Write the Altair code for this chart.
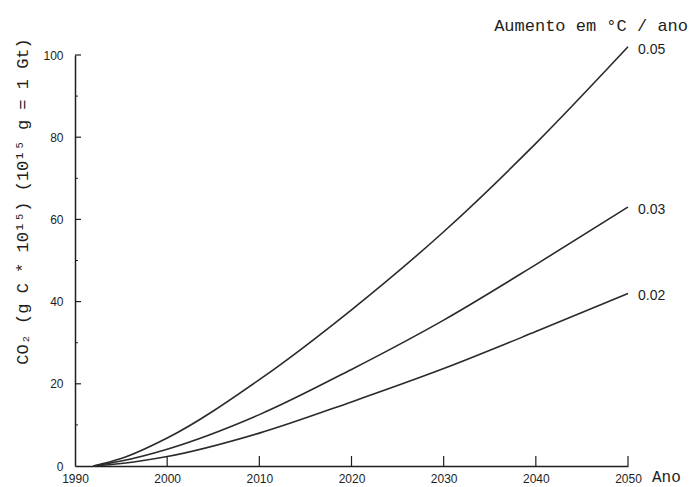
import altair as alt
import pandas as pd

# ---- data ----
years = [1992, 1995, 2000, 2010, 2020, 2030, 2040, 2050]
s_005 = [0, 1.8, 6.8, 21.0, 38.0, 57.0, 78.5, 102.0]
s_003 = [0, 1.2, 4.1, 12.5, 23.5, 35.5, 49.0, 63.0]
s_002 = [0, 0.6, 2.3, 8.0, 15.6, 23.7, 32.7, 42.0]
series_names = ["0.05", "0.03", "0.02"]
x_tick_values = [2000, 2010, 2020, 2030, 2040, 2050]
x_label_values = [1990, 2000, 2010, 2020, 2030, 2040, 2050]
y_major = [20, 40, 60, 80, 100]
y_minor = [10, 30, 50, 70, 90]
y_label_values = [0, 20, 40, 60, 80, 100]

rows = []
for name, vals in zip(series_names, [s_005, s_003, s_002]):
    for yr, v in zip(years, vals):
        rows.append({"ano": yr, "co2": v, "serie": name})
df = pd.DataFrame(rows)
end_df = df[df["ano"] == 2050]

W, H = 553, 411
xs = alt.Scale(domain=[1990, 2050], nice=False, zero=False)
ys = alt.Scale(domain=[0, 100], nice=False)

ink = "#1e1e1e"

x_axis = alt.Axis(
    values=x_label_values, format="d", ticks=False, grid=False,
    domainColor=ink, domainWidth=1.5, labelFont="Liberation Sans",
    labelFontSize=12, labelColor=ink, labelPadding=7, title=None,
    labelFlush=False)
y_axis = alt.Axis(
    values=y_label_values, ticks=False, grid=False,
    domainColor=ink, domainWidth=1.5, labelFont="Liberation Sans",
    labelFontSize=12, labelColor=ink, labelPadding=12,
    title="CO\u2082 (g C * 10\u00b9\u2075)   (10\u00b9\u2075 g = 1 Gt)",
    titleFont="Liberation Mono", titleFontSize=17, titleFontWeight="normal",
    titleColor=ink, titleAngle=270, titleX=-53, titleY=146,
    titleAlign="center", titleBaseline="middle", labelFlush=False)

lines = alt.Chart(df).mark_line(
    interpolate="monotone", color="#2a2a2a", strokeWidth=1.6
).encode(
    x=alt.X("ano:Q", scale=xs, axis=x_axis),
    y=alt.Y("co2:Q", scale=ys, axis=y_axis),
    detail="serie:N",
)

ytick_major = alt.Chart(pd.DataFrame({"co2": y_major})).mark_rule(
    color=ink, strokeWidth=1.2).encode(
    y=alt.Y("co2:Q", scale=ys, axis=y_axis), x=alt.value(0), x2=alt.value(6))
ytick_minor = alt.Chart(pd.DataFrame({"co2": y_minor})).mark_rule(
    color=ink, strokeWidth=1).encode(
    y=alt.Y("co2:Q", scale=ys, axis=y_axis), x=alt.value(0), x2=alt.value(3))
xtick = alt.Chart(pd.DataFrame({"ano": x_tick_values})).mark_rule(
    color=ink, strokeWidth=1.2).encode(
    x=alt.X("ano:Q", scale=xs, axis=x_axis), y=alt.value(H), y2=alt.value(H - 10))

end_labels = alt.Chart(end_df).mark_text(
    align="left", baseline="middle", dx=10, dy=3,
    font="Liberation Sans", fontSize=14, color=ink).encode(
    x=alt.X("ano:Q", scale=xs, axis=x_axis),
    y=alt.Y("co2:Q", scale=ys, axis=y_axis),
    text="serie:N")

legend_title = alt.Chart(pd.DataFrame({"t": ["Aumento em \u00b0C / ano"]})).mark_text(
    align="right", baseline="alphabetic", font="Liberation Mono",
    fontSize=17, color=ink).encode(
    x=alt.value(613), y=alt.value(-24), text="t:N")

ano_label = alt.Chart(pd.DataFrame({"t": ["Ano"]})).mark_text(
    align="left", baseline="middle", font="Liberation Mono",
    fontSize=16, color=ink).encode(
    x=alt.value(577), y=alt.value(H + 11), text="t:N")

chart = alt.layer(
    lines, ytick_major, ytick_minor, xtick, end_labels, legend_title, ano_label
).properties(
    width=W, height=H,
    autosize=alt.AutoSizeParams(type="none"),
    padding={"left": 67, "top": 47, "right": 62, "bottom": 21},
    background="white",
).configure_view(stroke=None)

chart.save("out.html", embed_options={"renderer": "svg", "actions": False})
